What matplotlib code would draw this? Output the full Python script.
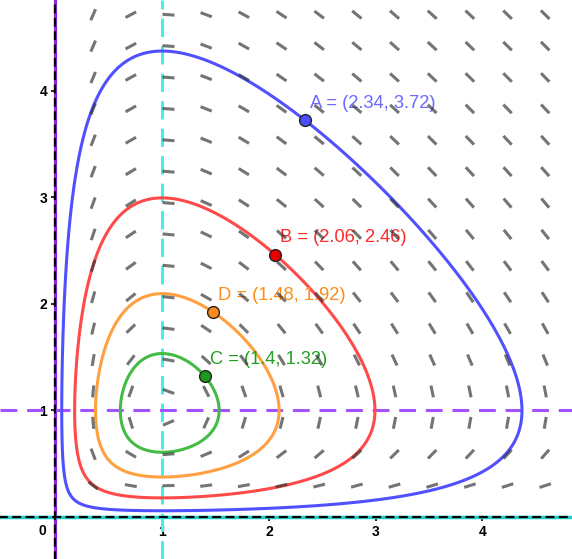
import numpy as np
import matplotlib
matplotlib.use("Agg")
import matplotlib.pyplot as plt
from matplotlib.collections import LineCollection

plt.rcParams['font.family'] = ['Liberation Sans', 'DejaVu Sans']

# Lotka-Volterra system: x' = x(1 - y), y' = y(x - 1)
# Conserved quantity: H(x, y) = x - ln x + y - ln y
point_names = ["A", "B", "D", "C"]
point_x = [2.34, 2.06, 1.48, 1.4]
point_y = [3.72, 2.46, 1.92, 1.32]
curve_colors = ["#5050ff", "#ff4a4a", "#ffa040", "#44bb44"]
point_colors = ["#4d4dff", "#e60000", "#ff8c1a", "#1a9a1a"]
label_colors = ["#6a6aff", "#ff2a2a", "#ff8c1a", "#22a022"]

x_ticks = [1, 2, 3, 4]
y_ticks = [1, 2, 3, 4]

# slope-field grid
field_dx = 0.353
field_dy = 0.2945
field_nx = 13
field_ny = 16


def H(x, y):
    return x - np.log(x) + y - np.log(y)


fig = plt.figure(figsize=(5.72, 5.59), dpi=100)
ax = fig.add_axes([0, 0, 1, 1])
ax.set_xlim(-0.52, 4.84)
ax.set_ylim(-0.394, 4.85)

px = 106.6  # pixels per data unit

# nullclines
ax.axvline(0, color="#8a2be2", lw=2.3, zorder=2)
ax.axhline(0, color="#22cccc", lw=2.5, zorder=2)
ax.axvline(1, color="#40f0f0", lw=2.2, linestyle=(0, (6, 3)), zorder=2)
ax.axhline(1, color="#a452ff", lw=2.2, linestyle=(0, (5.5, 3.2)), zorder=2)

# axes through the origin, dashed
for side in ("top", "right"):
    ax.spines[side].set_visible(False)
ax.spines["left"].set_position(("data", 0))
ax.spines["bottom"].set_position(("data", 0))
for side in ("left", "bottom"):
    ax.spines[side].set_linestyle((0, (3, 3)))
    ax.spines[side].set_linewidth(1.6)
    ax.spines[side].set_zorder(3)
ax.set_xticks(x_ticks)
ax.set_yticks(y_ticks)
ax.tick_params(axis="both", direction="out", length=3, width=1.2,
               labelsize=10, pad=3)
for lab in ax.get_xticklabels() + ax.get_yticklabels():
    lab.set_fontweight("bold")
ax.text(-0.125, -0.13, "0", ha="center", va="center", fontsize=10,
        fontweight="bold")

# orbits as level curves of H
gx = np.concatenate([np.geomspace(0.005, 0.6, 500), np.linspace(0.6, 5.2, 1200)[1:]])
gy = np.concatenate([np.geomspace(0.005, 0.6, 500), np.linspace(0.6, 5.2, 1200)[1:]])
GX, GY = np.meshgrid(gx, gy)
HH = H(GX, GY)
for xp, yp, c in zip(point_x, point_y, curve_colors):
    ax.contour(GX, GY, HH, levels=[H(xp, yp)], colors=[c], linewidths=2.2,
               zorder=4)

# labels and points
for name, xp, yp, pc, lc in zip(point_names, point_x, point_y, point_colors,
                                label_colors):
    ax.annotate(f"{name} = ({xp:g}, {yp:g})", (xp, yp), xytext=(5, 17),
                textcoords="offset pixels", ha="left", va="center",
                fontsize=13.2, color=lc, zorder=5)
    ax.plot([xp], [yp], "o", ms=8.5, mfc=pc, mec="#222222", mew=1.0,
            zorder=7)

# slope field
half = 6.0 / px
segs = []
for i in range(1, field_nx + 1):
    for j in range(1, field_ny + 1):
        x = i * field_dx
        y = j * field_dy
        u = x * (1 - y)
        v = y * (x - 1)
        n = np.hypot(u, v)
        u, v = u / n, v / n
        segs.append([(x - half * u, y - half * v), (x + half * u, y + half * v)])
ax.add_collection(LineCollection(segs, colors="#333333", alpha=0.68,
                                 linewidths=2.2, capstyle="butt", zorder=6))

fig.savefig("out.png", dpi=100)
